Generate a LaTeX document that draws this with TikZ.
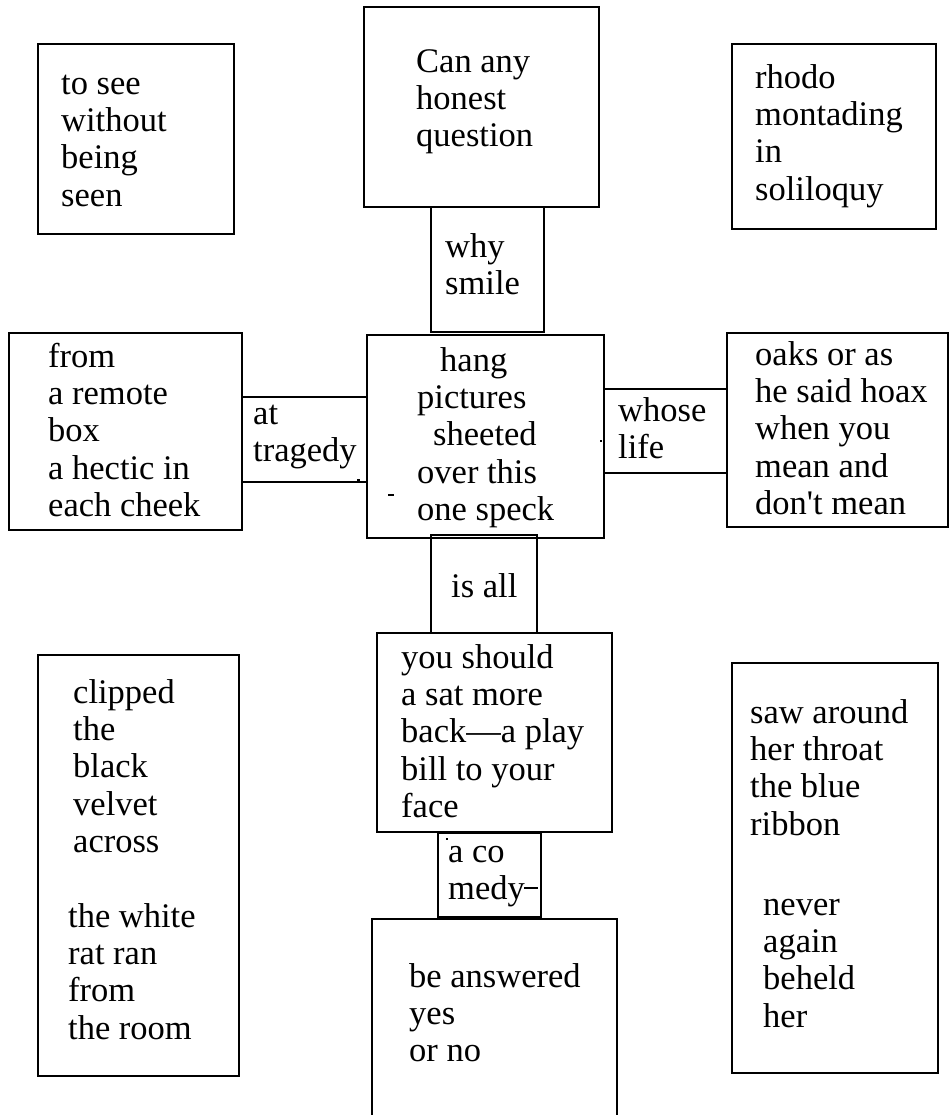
\documentclass[tikz,border=0pt]{standalone}
\usepackage{fontspec}
\setmainfont{Liberation Serif}
\usepackage{tikz}
\newcommand{\versestrut}{\rule{0pt}{26pt}}
\tikzset{
	panel/.style={line width=2.6pt},
	verse/.style={
		anchor=north west,
		inner sep=0pt,
		align=left,
		font=\fontsize{34.5}{37.3}\selectfont,
	},
	speck/.style={fill=black},
}

\begin{document}
\begin{tikzpicture}[x=1pt, y=-1pt]
		\useasboundingbox (0,0) rectangle (950,1115);
		\foreach \xa/\ya/\xb/\yb in {38/44/234/234, 364/7/599/207, 732/44/936/229, 431/207/544/332, 9/333/242/530, 242/397/367/482, 367/335/604/538, 604/389/727/473, 727/333/948/527, 431/535/537/633, 377/633/612/832, 438/833/541/917, 38/655/239/1076, 732/663/938/1073}{
			\draw[panel] (\xa,\ya) rectangle (\xb,\yb);
		}
		\draw[panel] (372,1125) -- (372,919) -- (617,919) -- (617,1125);
		% stray marks
		\fill[speck] (356.5,478.5) rectangle (359.5,481.5);
		\fill[speck] (600,440) rectangle (602,442);
		\fill[speck] (446,838) rectangle (448,840);
		\draw[line width=1.5pt] (388,495) -- (394,495);
		\draw[line width=2pt] (524,888) -- (538,888);
		% the texts
		\node[verse] (seen) at (61,68) {\versestrut to see\\without\\being\\seen};
		\node[verse] (question) at (416,46) {\versestrut Can any\\honest\\question};
		\node[verse] (rhodo) at (755,62) {\versestrut rhodo\\montading\\in\\soliloquy};
		\node[verse] (smile) at (445,231) {\versestrut why\\smile};
		\node[verse] (remote) at (48,341) {\versestrut from\\a remote\\box\\a hectic in\\each cheek};
		\node[verse] (tragedy) at (253,398) {\versestrut at\\tragedy};
		\node[verse] (speck) at (417,345) {\versestrut\hspace*{23pt}hang\\pictures\\\hspace*{16pt}sheeted\\over this\\one speck};
		\node[verse] (whose) at (618,395) {\versestrut whose\\life};
		\node[verse] (hoax) at (755,339) {\versestrut oaks or as\\he said hoax\\when you\\mean and\\don\textquotesingle t mean};
		\node[verse] (isall) at (451,571) {\versestrut is all};
		\node[verse] (playbill) at (401,642) {\versestrut you should\\a sat more\\back---a play\\bill to your\\face};
		\node[verse] (comedy) at (448,836) {\versestrut a co\\medy};
		\node[verse] (answered) at (409,961) {\versestrut be answered\\yes\\or no};
		\node[verse] (velvet) at (73,677) {\versestrut clipped\\the\\black\\velvet\\across};
		\node[verse] (rat) at (68,901) {\versestrut the white\\rat ran\\from\\the room};
		\node[verse] (ribbon) at (750,697) {\versestrut saw around\\her throat\\the blue\\ribbon};
		\node[verse] (beheld) at (763,889) {\versestrut never\\again\\beheld\\her};
	\end{tikzpicture}
\end{document}
